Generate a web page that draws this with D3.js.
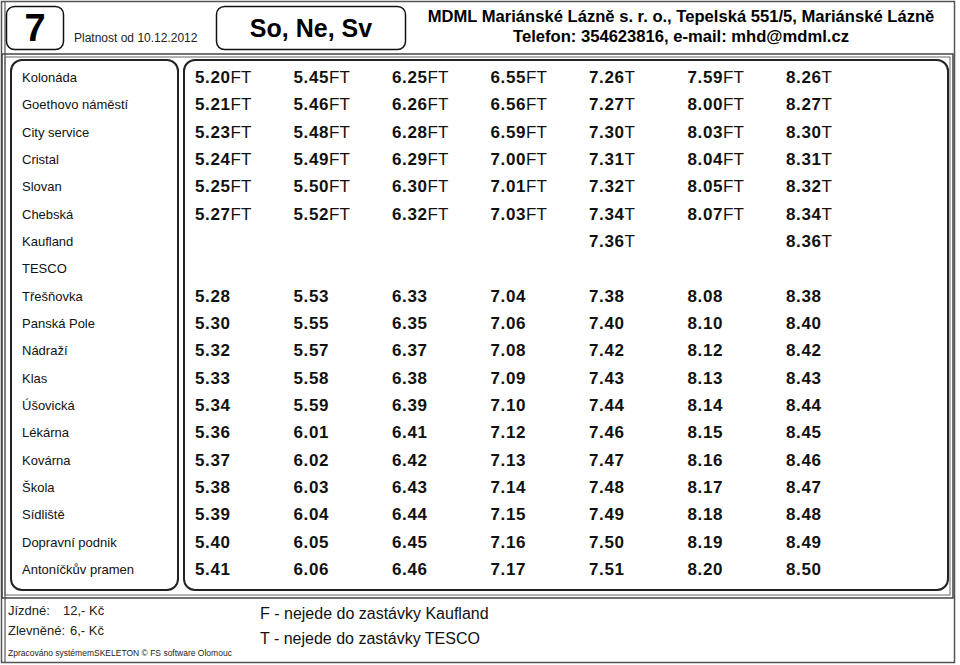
<!DOCTYPE html>
<html><head><meta charset="utf-8">
<script src="https://cdn.jsdelivr.net/npm/d3@7"></script>
<style>body{margin:0;background:#fff}svg{display:block}</style>
</head><body>
<script>
const stops = ["Kolonáda","Goethovo náměstí","City service","Cristal","Slovan","Chebská","Kaufland","TESCO","Třešňovka","Panská Pole","Nádraží","Klas","Úšovická","Lékárna","Kovárna","Škola","Sídliště","Dopravní podnik","Antoníčkův pramen"];
// departures: one array per trip (column), one entry per stop
const dep1 = ["5.20FT","5.21FT","5.23FT","5.24FT","5.25FT","5.27FT","","","5.28","5.30","5.32","5.33","5.34","5.36","5.37","5.38","5.39","5.40","5.41"];
const dep2 = ["5.45FT","5.46FT","5.48FT","5.49FT","5.50FT","5.52FT","","","5.53","5.55","5.57","5.58","5.59","6.01","6.02","6.03","6.04","6.05","6.06"];
const dep3 = ["6.25FT","6.26FT","6.28FT","6.29FT","6.30FT","6.32FT","","","6.33","6.35","6.37","6.38","6.39","6.41","6.42","6.43","6.44","6.45","6.46"];
const dep4 = ["6.55FT","6.56FT","6.59FT","7.00FT","7.01FT","7.03FT","","","7.04","7.06","7.08","7.09","7.10","7.12","7.13","7.14","7.15","7.16","7.17"];
const dep5 = ["7.26T","7.27T","7.30T","7.31T","7.32T","7.34T","7.36T","","7.38","7.40","7.42","7.43","7.44","7.46","7.47","7.48","7.49","7.50","7.51"];
const dep6 = ["7.59FT","8.00FT","8.03FT","8.04FT","8.05FT","8.07FT","","","8.08","8.10","8.12","8.13","8.14","8.15","8.16","8.17","8.18","8.19","8.20"];
const dep7 = ["8.26T","8.27T","8.30T","8.31T","8.32T","8.34T","8.36T","","8.38","8.40","8.42","8.43","8.44","8.45","8.46","8.47","8.48","8.49","8.50"];
const departures = [dep1,dep2,dep3,dep4,dep5,dep6,dep7];
const lineNumber = "7";
const validity = "Platnost od 10.12.2012";
const days = "So, Ne, Sv";
const company = ["MDML Mariánské Lázně s. r. o., Tepelská 551/5, Mariánské Lázně","Telefon: 354623816, e-mail: mhd@mdml.cz"];
const fares = [["Jízdné:","12,- Kč"],["Zlevněné:","6,- Kč"]];
const notes = ["F - nejede do zastávky Kaufland","T - nejede do zastávky TESCO"];
const credit = "Zpracováno systémemSKELETON © FS software Olomouc";

const W = 960, H = 665;
const svg = d3.select("body").append("svg").attr("width", W).attr("height", H)
  .style("font-family", "'Liberation Sans', Arial, Helvetica, sans-serif");

// frames
svg.append("rect").attr("x",1.5).attr("y",1.5).attr("width",953).attr("height",661)
  .attr("fill","none").attr("stroke","#555").attr("stroke-width",1.5);
svg.append("line").attr("x1",5).attr("x2",5).attr("y1",2).attr("y2",662).attr("stroke","#555").attr("stroke-width",1.2);
svg.append("rect").attr("x",2).attr("y",54).attr("width",951).attr("height",544)
  .attr("fill","none").attr("stroke","#444").attr("stroke-width",1.5);
svg.append("rect").attr("x",5).attr("y",57).attr("width",945).attr("height",538)
  .attr("fill","none").attr("stroke","#666").attr("stroke-width",1);

// header boxes
svg.append("rect").attr("x",6.5).attr("y",6.5).attr("width",57).attr("height",43).attr("rx",8)
  .attr("fill","none").attr("stroke","#111").attr("stroke-width",1.5);
svg.append("text").attr("x",35).attr("y",41).attr("text-anchor","middle")
  .attr("font-size",38).attr("font-weight","bold").text(lineNumber);
svg.append("text").attr("x",74).attr("y",42).attr("font-size",12).attr("fill","#222").text(validity);
svg.append("rect").attr("x",216.5).attr("y",6.5).attr("width",189).attr("height",43).attr("rx",8)
  .attr("fill","none").attr("stroke","#111").attr("stroke-width",1.5);
svg.append("text").attr("x",311).attr("y",37).attr("text-anchor","middle")
  .attr("font-size",25).attr("font-weight","bold").text(days);
svg.append("text").attr("x",681).attr("y",22).attr("text-anchor","middle")
  .attr("font-size",16.6).attr("font-weight","bold").text(company[0]);
svg.append("text").attr("x",681).attr("y",42).attr("text-anchor","middle")
  .attr("font-size",16.6).attr("font-weight","bold").text(company[1]);

// panels
svg.append("rect").attr("x",11).attr("y",60).attr("width",167).attr("height",530).attr("rx",11)
  .attr("fill","none").attr("stroke","#222").attr("stroke-width",2);
svg.append("rect").attr("x",184).attr("y",60).attr("width",764).attr("height",530).attr("rx",11)
  .attr("fill","none").attr("stroke","#222").attr("stroke-width",2);

// scales
const y = d3.scalePoint().domain(stops).range([77, 569]);
const x = d3.scalePoint().domain(d3.range(departures.length)).range([195, 786]);

// stop names
svg.append("g").selectAll("text").data(stops).join("text")
  .attr("x", 22).attr("y", d => y(d) + 5)
  .attr("font-size", 13).attr("fill","#111").text(d => d);

// times
const cells = [];
departures.forEach((col, ci) => col.forEach((t, si) => { if (t) cells.push({ci, stop: stops[si], t}); }));
const tg = svg.append("g").selectAll("text").data(cells).join("text")
  .attr("x", d => x(d.ci)).attr("y", d => y(d.stop) + 6)
  .attr("font-size", 17).attr("fill","#111");
tg.append("tspan").attr("font-weight","bold").attr("letter-spacing","0.6px")
  .text(d => d.t.replace(/[A-Z]+$/, ""));
tg.append("tspan").attr("font-weight","normal")
  .text(d => (d.t.match(/[A-Z]+$/) || [""])[0]);

// footer
fares.forEach((f, i) => {
  svg.append("text").attr("x", 8).attr("y", 615 + i*20).attr("font-size", 13).attr("fill","#222").text(f[0]);
  svg.append("text").attr("x", i === 0 ? 63 : 70).attr("y", 615 + i*20).attr("font-size", 13).attr("fill","#222").text(f[1]);
});
svg.append("text").attr("x", 8).attr("y", 656).attr("font-size", 8.5).attr("fill","#222").text(credit);
notes.forEach((n, i) => {
  svg.append("text").attr("x", 260).attr("y", 619 + i*25).attr("font-size", 16).attr("fill","#111").text(n);
});
</script>
</body></html>
